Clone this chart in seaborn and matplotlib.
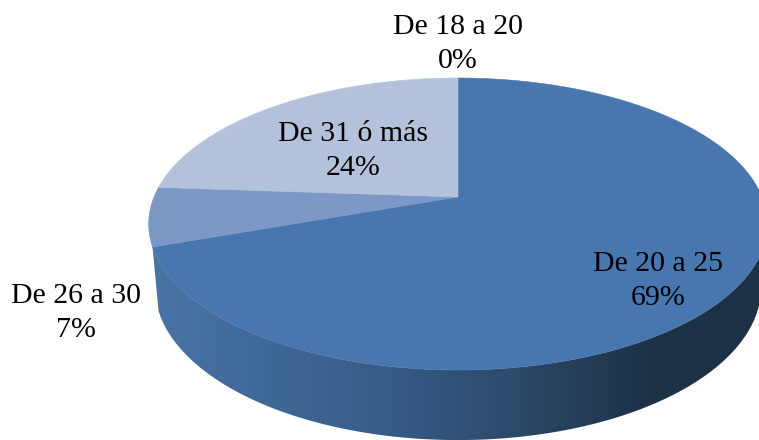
import numpy as np
import matplotlib
matplotlib.use("Agg")
import matplotlib.pyplot as plt
from matplotlib.patches import Polygon
import seaborn as sns

# Data
categories = ["De 20 a 25", "De 26 a 30", "De 31 ó más", "De 18 a 20"]
shares = [69.6, 6.5, 23.9, 0.0]
pct_labels = ["69%", "7%", "24%", "0%"]
slice_colors = ["#4876AE", "#7C98C6", "#B3C1DA", "#B3C1DA"]
side_colors = ["#4A74A6", "#3F6796", "#365A84", "#2B4867", "#1D3146"]

sns.set_theme(style="white")
plt.rcParams["font.family"] = ["Liberation Serif", "DejaVu Serif"]

fig = plt.figure(figsize=(7.59, 4.40), dpi=100, facecolor="white")
ax = fig.add_axes([0, 0, 1, 1])


def project(theta, cx, cy, radius, height, k=0.185):
    """Clockwise angle from the top of a tilted disc to canvas coordinates."""
    u, v = np.sin(theta), np.cos(theta)
    d = 1 + k * v
    return cx + radius * u / d, cy - height * v / d


TOP = dict(cx=458, cy=197, radius=304, height=141)
BOTTOM = dict(cx=458, cy=258.7, radius=298, height=147.8)

edges = np.deg2rad(np.concatenate([[0], np.cumsum(shares)]) * 3.6)

# Side wall of the largest slice, with a left-to-right gradient
t_side = np.linspace(np.deg2rad(100.7), edges[1], 200)
xt, yt = project(t_side, **TOP)
xb, yb = project(t_side[::-1], **BOTTOM)
wall = Polygon(np.column_stack([np.r_[xt, xb], np.r_[yt, yb]]), closed=True,
               transform=ax.transData, facecolor="none", edgecolor="none")
ax.add_patch(wall)
cmap = sns.blend_palette(side_colors, as_cmap=True)
grad = np.clip((np.arange(760) - 150) / 500, 0, 1)[None, :]
im = ax.imshow(grad, cmap=cmap, vmin=0, vmax=1, extent=(0, 760, 440, 0),
               aspect="auto", interpolation="bilinear")
im.set_clip_path(wall)

# Top face
for a, b, c in zip(edges[:-1], edges[1:], slice_colors):
    if b <= a:
        continue
    t = np.linspace(a, b, 200)
    x, y = project(t, **TOP)
    ax.fill(np.r_[TOP["cx"], x], np.r_[TOP["cy"], y], color=c, lw=0.4)

# Labels
label_pos = [(658, 281), (76, 313), (353, 151), (458, 44)]
for name, pct, (lx, ly) in zip(categories, pct_labels, label_pos):
    ax.text(lx, ly, f"{name}\n{pct}", ha="center", va="center",
            fontsize=21.5, color="black", linespacing=1.38)

ax.set_xlim(0, 759)
ax.set_ylim(440, 0)
ax.axis("off")
fig.savefig("out.png", dpi=100, facecolor="white")
